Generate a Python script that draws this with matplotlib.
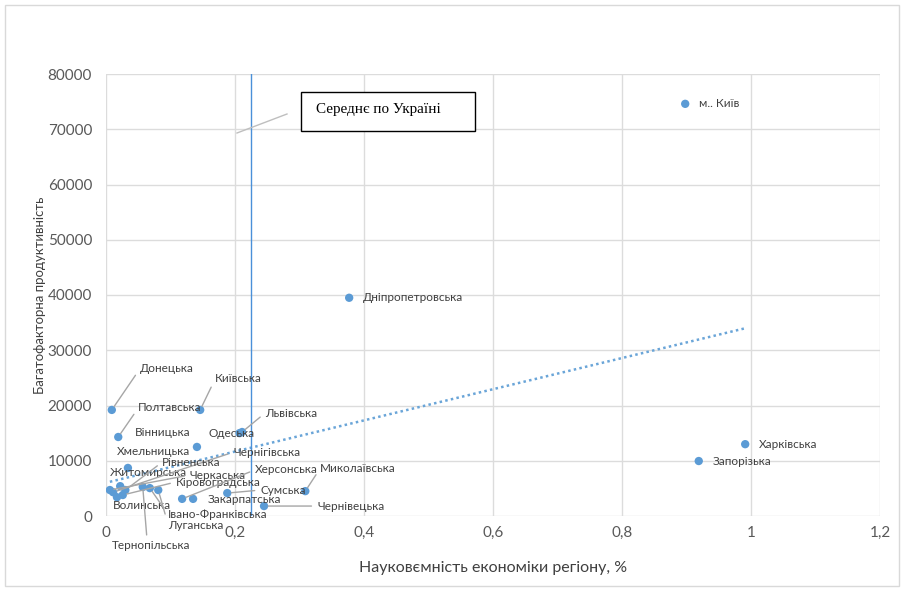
import matplotlib
matplotlib.use("Agg")
import matplotlib.pyplot as plt
from matplotlib.patches import Rectangle
from matplotlib.lines import Line2D
import numpy as np

plt.rcParams['font.family'] = ['Lato', 'Open Sans', 'DejaVu Sans']

# Regions: research intensity of the economy (%) and multifactor productivity
regions = [
    "м.. Київ", "Дніпропетровська", "Харківська", "Запорізька",
    "Донецька", "Київська", "Полтавська", "Вінницька", "Одеська", "Львівська",
    "Хмельницька", "Житомирська", "Волинська", "Чернігівська", "Рівненська",
    "Кіровоградська", "Черкаська", "Івано-Франківська", "Луганська",
    "Тернопільська", "Херсонська", "Закарпатська", "Сумська",
    "Миколаївська", "Чернівецька",
]
intensity = [
    0.898, 0.377, 0.991, 0.919,
    0.009, 0.146, 0.019, 0.141, 0.207, 0.211,
    0.034, 0.022, 0.017, 0.011, 0.030,
    0.026, 0.006, 0.068, 0.081,
    0.057, 0.118, 0.135, 0.188,
    0.309, 0.245,
]
productivity = [
    74600, 39500, 13000, 9950,
    19200, 19200, 14300, 12500, 15000, 15200,
    8700, 5400, 3400, 4300, 4700,
    3800, 4700, 5050, 4700,
    5250, 3100, 3100, 4150,
    4500, 1800,
]
ukraine_avg = 0.225
x_ticks = [0, 0.2, 0.4, 0.6, 0.8, 1.0, 1.2]
x_tick_labels = ["0", "0,2", "0,4", "0,6", "0,8", "1", "1,2"]
y_ticks = list(range(0, 80001, 10000))

# label placement: offset of the label's left-centre from its point (pixels),
# and the anchor on the label where a leader line starts (None = no leader)
label_layout = {
    "м.. Київ": (14, 0, None),
    "Дніпропетровська": (14, 0, None),
    "Харківська": (14, 0, None),
    "Запорізька": (14, 0, None),
    "Донецька": (28, 41, (0, 0.5)),
    "Київська": (15, 31, (0, 0.5)),
    "Полтавська": (20, 29, (0, 0.5)),
    "Вінницька": (-62, 14, None),
    "Одеська": (-31, 0, None),
    "Львівська": (23, 19, (0, 0.5)),
    "Хмельницька": (-11, 16, None),
    "Житомирська": (-10, 14, None),
    "Волинська": (-4, -8, None),
    "Чернігівська": (120, 40, (0, 0.5)),
    "Рівненська": (37, 28, (0, 0.5)),
    "Кіровоградська": (53, 13, (0, 0.5)),
    "Черкаська": (80, 15, (0, 0.5)),
    "Івано-Франківська": (18, -26, (0, 0.5)),
    "Луганська": (10, -35, (0, 0.5)),
    "Тернопільська": (-31, -59, (0.45, 1)),
    "Херсонська": (73, 29, (0, 0.5)),
    "Закарпатська": (15, -1, None),
    "Сумська": (33, 3, (0, 0.5)),
    "Миколаївська": (15, 23, (0, 0.5)),
    "Чернівецька": (53, 0, (0, 0.5)),
}

W, H = 904, 591
fig = plt.figure(figsize=(W / 100, H / 100), dpi=100)
fig.patch.set_facecolor("white")

# outer chart frame
fig.add_artist(Rectangle((5 / W, 5 / H), 894 / W, 581 / H, transform=fig.transFigure,
                         fill=False, edgecolor="#d9d9d9", lw=1))

ax = fig.add_axes([106 / W, 75 / H, 774 / W, 442 / H])
ax.set_xlim(0, 1.2)
ax.set_ylim(0, 80000)
ax.set_xticks(x_ticks)
ax.set_xticklabels(x_tick_labels)
ax.set_yticks(y_ticks)
ax.set_yticklabels([str(v) for v in y_ticks])
ax.tick_params(length=0, colors="#595959", labelsize=11)
ax.tick_params(axis="y", pad=10)
ax.tick_params(axis="x", pad=7)
ax.grid(True, color="#dcdcdc", lw=1)
ax.set_axisbelow(True)
for s in ax.spines.values():
    s.set_visible(False)

ax.set_xlabel("Науковємність економіки регіону, %", fontsize=11.5, color="#404040", labelpad=15)
ax.set_ylabel("Багатофакторна продуктивність", fontsize=9.5, color="#404040", labelpad=1)

# linear trend
coef = np.polyfit(intensity, productivity, 1)
xt = np.array([min(intensity), max(intensity)])
ax.plot(xt, np.polyval(coef, xt), ls=(0, (1, 1.3)), color="#6aa5d8", lw=1.8, zorder=2)

# average for Ukraine
ax.axvline(ukraine_avg, color="#4a90d9", lw=1, zorder=2)

ax.scatter(intensity, productivity, s=36, color="#5b9bd5", edgecolors="none", zorder=3)

for name, x, y in zip(regions, intensity, productivity):
    dx, dy, anchor = label_layout[name]
    kw = {}
    if anchor is not None:
        kw["arrowprops"] = dict(arrowstyle="-", color="#a6a6a6", lw=1,
                                shrinkA=2, shrinkB=3, relpos=anchor)
    ax.annotate(name, (x, y), xytext=(dx, dy), textcoords="offset pixels",
                ha="left", va="center", fontsize=8.5, color="#404040", zorder=4, **kw)

# callout for the national average
fig.add_artist(Line2D([237 / W, 287 / W], [1 - 133 / H, 1 - 114 / H],
                      transform=fig.transFigure, color="#bfbfbf", lw=1))
fig.add_artist(Rectangle((301 / W, 1 - 131 / H), 174 / W, 39 / H, transform=fig.transFigure,
                         facecolor="white", edgecolor="black", lw=1))
fig.text(316 / W, 1 - 110 / H, "Середнє по Україні", fontsize=10.9,
         family=["Liberation Serif", "DejaVu Serif"], color="black", ha="left", va="center")

fig.savefig("out.png", dpi=100, facecolor="white")
